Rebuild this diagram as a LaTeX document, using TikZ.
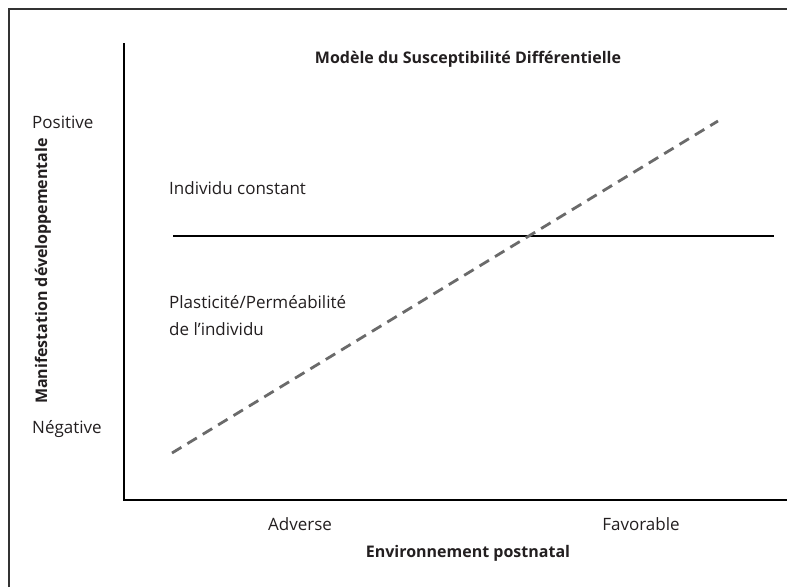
\documentclass[tikz,border=0pt]{standalone}
\usepackage{fontspec}
\setmainfont{Open Sans}
\begin{document}
\begin{tikzpicture}[x=1pt,y=-1pt,
  lbl/.style={inner sep=0pt,font=\fontsize{17}{20}\selectfont,text=ink},
  blbl/.style={lbl,font=\fontsize{16}{19}\selectfont\bfseries},
  axis/.style={line width=2.8pt,draw=black},
  dashline/.style={line width=2.8pt,draw=dashgray,dash pattern=on 11pt off 7pt},
  frame/.style={line width=1.3pt,draw=framegray}]
\definecolor{ink}{HTML}{231F20}
\definecolor{dashgray}{HTML}{6A6A6A}
\definecolor{framegray}{HTML}{333333}
\useasboundingbox (0,0) rectangle (787,587);
\fill[white] (0,0) rectangle (787,587);
% outer frame (top and left edges only)
\draw[frame] (9,587) -- (9,9) -- (787,9);
% axes
\coordinate (ytop) at (124,43);
\coordinate (orig) at (124,500);
\coordinate (xend) at (787,500);
\draw[axis] (ytop) -- (orig) -- (xend);
% constant individual
\coordinate (c0) at (173,236);
\coordinate (c1) at (774,236);
\draw[line width=2.2pt] (c0) -- (c1);
% plastic individual
\coordinate (p0) at (172,453);
\coordinate (p1) at (718,121);
\draw[dashline] (p0) -- (p1);
% labels
\node[blbl,anchor=base] (title) at (468,63) {Modèle du Susceptibilité Différentielle};
\node[lbl,anchor=base west] (pos) at (32,128) {Positive};
\node[lbl,anchor=base west] (neg) at (32,433) {Négative};
\node[blbl,anchor=base,rotate=90] (ylab) at (47,271) {Manifestation développementale};
\node[lbl,anchor=base west] (const) at (169,194) {Individu constant};
\node[lbl,anchor=base west] (plas) at (169,308) {Plasticité/Perméabilité};
\node[lbl,anchor=base west] (plas2) at (169,335) {de l’individu};
\node[lbl,anchor=base] (adv) at (300,530) {Adverse};
\node[lbl,anchor=base] (fav) at (641,530) {Favorable};
\node[blbl,anchor=base] (xlab) at (468,557) {Environnement postnatal};
\end{tikzpicture}
\end{document}
